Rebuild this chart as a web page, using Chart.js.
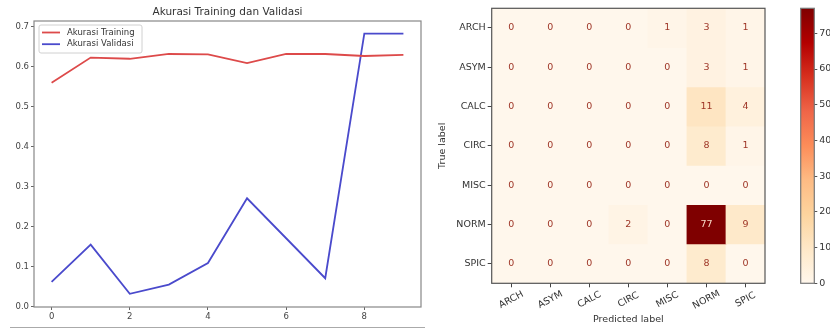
<!DOCTYPE html>
<html>
<head>
<meta charset="utf-8">
<script src="https://cdn.jsdelivr.net/npm/chart.js"></script>
<style>
  body { margin: 0; background: #fff; width: 830px; height: 329px; overflow: hidden; position: relative; }
  canvas { position: absolute; top: 0; }
  #acc { left: 0; }
  #cm { left: 430px; }
  #cbar { left: 790px; }
  .baseline { position: absolute; left: 10px; top: 327px; width: 415px; height: 1px; background: #aaa; }
</style>
</head>
<body>
<canvas id="acc" width="430" height="329"></canvas>
<canvas id="cm" width="360" height="329"></canvas>
<canvas id="cbar" width="40" height="329"></canvas>
<div class="baseline"></div>
<script>
// accuracy per epoch
const epochs = [0, 1, 2, 3, 4, 5, 6, 7, 8, 9];
const trainAcc = [0.560, 0.623, 0.620, 0.632, 0.631, 0.609, 0.632, 0.632, 0.627, 0.630];
const valAcc = [0.062, 0.155, 0.032, 0.055, 0.109, 0.271, 0.171, 0.071, 0.683, 0.683];
const xTicks = [0, 2, 4, 6, 8];
const yTicks = [0, 0.1, 0.2, 0.3, 0.4, 0.5, 0.6, 0.7];

// confusion matrix (rows = true label, cols = predicted label)
const classes = ['ARCH', 'ASYM', 'CALC', 'CIRC', 'MISC', 'NORM', 'SPIC'];
const confusion = [
  [0, 0, 0, 0, 1, 3, 1],
  [0, 0, 0, 0, 0, 3, 1],
  [0, 0, 0, 0, 0, 11, 4],
  [0, 0, 0, 0, 0, 8, 1],
  [0, 0, 0, 0, 0, 0, 0],
  [0, 0, 0, 2, 0, 77, 9],
  [0, 0, 0, 0, 0, 8, 0]
];
const colorbarTicks = [0, 10, 20, 30, 40, 50, 60, 70];

const FONT = 'DejaVu Sans';
const maxVal = Math.max(...confusion.flat());

// matplotlib OrRd
const OR_RD = [[255,247,236],[254,232,200],[253,212,158],[253,187,132],[252,141,89],[239,101,72],[215,48,31],[179,0,0],[127,0,0]];
function orRd(t) {
  t = Math.min(1, Math.max(0, t));
  const p = t * (OR_RD.length - 1);
  const k = Math.min(OR_RD.length - 2, Math.floor(p));
  const f = p - k;
  const c = OR_RD[k].map((v, i) => Math.round(v + (OR_RD[k + 1][i] - v) * f));
  return `rgb(${c[0]},${c[1]},${c[2]})`;
}

const frame = color => ({
  id: 'frame',
  afterDraw(chart) {
    const { ctx, chartArea: a } = chart;
    ctx.save();
    ctx.strokeStyle = color;
    ctx.lineWidth = 1.2;
    ctx.strokeRect(a.left, a.top, a.right - a.left, a.bottom - a.top);
    ctx.restore();
  }
});

// ---------- left: line chart ----------
const titlePlugin = {
  id: 'titleText',
  afterDraw(chart) {
    const { ctx, chartArea: a } = chart;
    ctx.save();
    ctx.font = `10.5px "${FONT}"`;
    ctx.fillStyle = '#333';
    ctx.textAlign = 'center';
    ctx.textBaseline = 'middle';
    ctx.fillText('Akurasi Training dan Validasi', (a.left + a.right) / 2, 12);
    ctx.restore();
  }
};

const boxLegend = {
  id: 'boxLegend',
  afterDatasetsDraw(chart) {
    const { ctx, chartArea: a } = chart;
    const x = a.left + 5, y = a.top + 4, w = 103, h = 28;
    ctx.save();
    ctx.fillStyle = 'rgba(255,255,255,0.9)';
    ctx.strokeStyle = '#d0d0d0';
    ctx.lineWidth = 1;
    ctx.beginPath();
    ctx.roundRect(x, y, w, h, 2);
    ctx.fill();
    ctx.stroke();
    ctx.font = `8.5px "${FONT}"`;
    ctx.textBaseline = 'middle';
    chart.data.datasets.forEach((ds, i) => {
      const ly = y + 7.5 + i * 11.7;
      ctx.strokeStyle = ds.borderColor;
      ctx.lineWidth = ds.borderWidth;
      ctx.beginPath();
      ctx.moveTo(x + 3, ly);
      ctx.lineTo(x + 21, ly);
      ctx.stroke();
      ctx.fillStyle = '#333';
      ctx.fillText(ds.label, x + 28, ly);
    });
    ctx.restore();
  }
};

new Chart(document.getElementById('acc'), {
  type: 'line',
  data: {
    datasets: [
      { label: 'Akurasi Training', data: epochs.map((e, i) => ({ x: e, y: trainAcc[i] })), borderColor: '#dd4a4a', borderWidth: 1.8, pointRadius: 0, tension: 0 },
      { label: 'Akurasi Validasi', data: epochs.map((e, i) => ({ x: e, y: valAcc[i] })), borderColor: '#4a4acc', borderWidth: 1.8, pointRadius: 0, tension: 0 }
    ]
  },
  options: {
    responsive: false,
    animation: false,
    layout: { padding: { top: 21, right: 9, left: 0, bottom: 0 } },
    plugins: { legend: { display: false }, tooltip: { enabled: false } },
    scales: {
      x: {
        type: 'linear', min: -0.45, max: 9.45,
        afterBuildTicks: s => { s.ticks = xTicks.map(v => ({ value: v })); },
        afterFit: s => { s.height = 22; },
        grid: { drawOnChartArea: false, tickLength: 3, color: '#666' },
        border: { display: false },
        ticks: { font: { family: FONT, size: 8.5 }, color: '#444', padding: 2 }
      },
      y: {
        min: -0.001, max: 0.7145,
        afterBuildTicks: s => { s.ticks = yTicks.map(v => ({ value: v })); },
        afterFit: s => { s.width = 34; },
        grid: { drawOnChartArea: false, tickLength: 3, color: '#666' },
        border: { display: false },
        ticks: { font: { family: FONT, size: 8.5 }, color: '#444', padding: 2, callback: v => v.toFixed(1) }
      }
    }
  },
  plugins: [frame('#888'), titlePlugin, boxLegend]
});

// ---------- right: confusion matrix ----------
const cellText = {
  id: 'cellText',
  afterDatasetsDraw(chart) {
    const { ctx } = chart;
    const xs = chart.scales.x, ys = chart.scales.y;
    ctx.save();
    ctx.font = `9.5px "${FONT}"`;
    ctx.textAlign = 'center';
    ctx.textBaseline = 'middle';
    confusion.forEach((row, i) => row.forEach((v, j) => {
      ctx.fillStyle = v / maxVal > 0.5 ? '#f7d9c6' : '#9e3526';
      ctx.fillText(String(v), xs.getPixelForValue(j), ys.getPixelForValue(i + 0.5));
    }));
    ctx.restore();
  }
};

const rotatedLabels = {
  id: 'rotatedLabels',
  afterDraw(chart) {
    const { ctx, chartArea: a } = chart;
    const xs = chart.scales.x;
    ctx.save();
    ctx.font = `9.5px "${FONT}"`;
    ctx.fillStyle = '#333';
    ctx.textAlign = 'center';
    ctx.textBaseline = 'middle';
    classes.forEach((c, j) => {
      ctx.save();
      ctx.translate(xs.getPixelForTick(j), a.bottom + 16.5);
      ctx.rotate(-28 * Math.PI / 180);
      ctx.fillText(c, 0, 0);
      ctx.restore();
    });
    ctx.restore();
  }
};

new Chart(document.getElementById('cm'), {
  type: 'bar',
  data: {
    labels: classes,
    datasets: classes.map((row, i) => ({
      label: row,
      data: classes.map(() => 1),
      backgroundColor: confusion[i].map(v => orRd(v / maxVal)),
      borderWidth: 0,
      barPercentage: 1,
      categoryPercentage: 1
    }))
  },
  options: {
    responsive: false,
    animation: false,
    layout: { padding: { top: 8.3, right: 25, left: 0, bottom: 0 } },
    plugins: { legend: { display: false }, tooltip: { enabled: false } },
    scales: {
      x: {
        stacked: true,
        offset: true,
        afterFit: s => { s.height = 45.7; },
        grid: { drawOnChartArea: false, offset: false, tickLength: 4, color: '#444' },
        border: { display: false },
        ticks: { display: false },
        title: { display: true, text: 'Predicted label', color: '#333', font: { family: FONT, size: 9.5 }, padding: { top: 0, bottom: 3.4 } }
      },
      y: {
        stacked: true,
        min: 0, max: classes.length,
        reverse: true,
        afterBuildTicks: s => { s.ticks = classes.map((c, i) => ({ value: i + 0.5 })); },
        afterFit: s => { s.width = 61.7; },
        grid: { drawOnChartArea: false, tickLength: 4, color: '#444' },
        border: { display: false },
        ticks: { font: { family: FONT, size: 9.5 }, color: '#333', padding: 2, callback: (v, i) => classes[i] },
        title: { display: true, text: 'True label', color: '#333', font: { family: FONT, size: 9.5 }, padding: { top: 7.3, bottom: 0 } }
      }
    }
  },
  plugins: [cellText, rotatedLabels, frame('#555')]
});

// ---------- colorbar ----------
new Chart(document.getElementById('cbar'), {
  type: 'bar',
  data: {
    labels: [''],
    datasets: [{
      data: [maxVal],
      backgroundColor: c => {
        const a = c.chart.chartArea;
        if (!a) return orRd(0);
        const g = c.chart.ctx.createLinearGradient(0, a.bottom, 0, a.top);
        OR_RD.forEach((s, k) => g.addColorStop(k / (OR_RD.length - 1), `rgb(${s[0]},${s[1]},${s[2]})`));
        return g;
      },
      borderWidth: 0,
      barPercentage: 1,
      categoryPercentage: 1
    }]
  },
  options: {
    responsive: false,
    animation: false,
    layout: { padding: { top: 8.3, right: 0, left: 10.7, bottom: 45.7 } },
    plugins: { legend: { display: false }, tooltip: { enabled: false } },
    scales: {
      x: { display: false },
      y: {
        position: 'right',
        min: 0, max: maxVal,
        afterBuildTicks: s => { s.ticks = colorbarTicks.map(v => ({ value: v })); },
        afterFit: s => { s.width = 15.7; },
        grid: { drawOnChartArea: false, tickLength: 3, color: '#555' },
        border: { display: false },
        ticks: { font: { family: FONT, size: 9.5 }, color: '#333', padding: 2 }
      }
    }
  },
  plugins: [frame('#777')]
});
</script>
</body>
</html>
